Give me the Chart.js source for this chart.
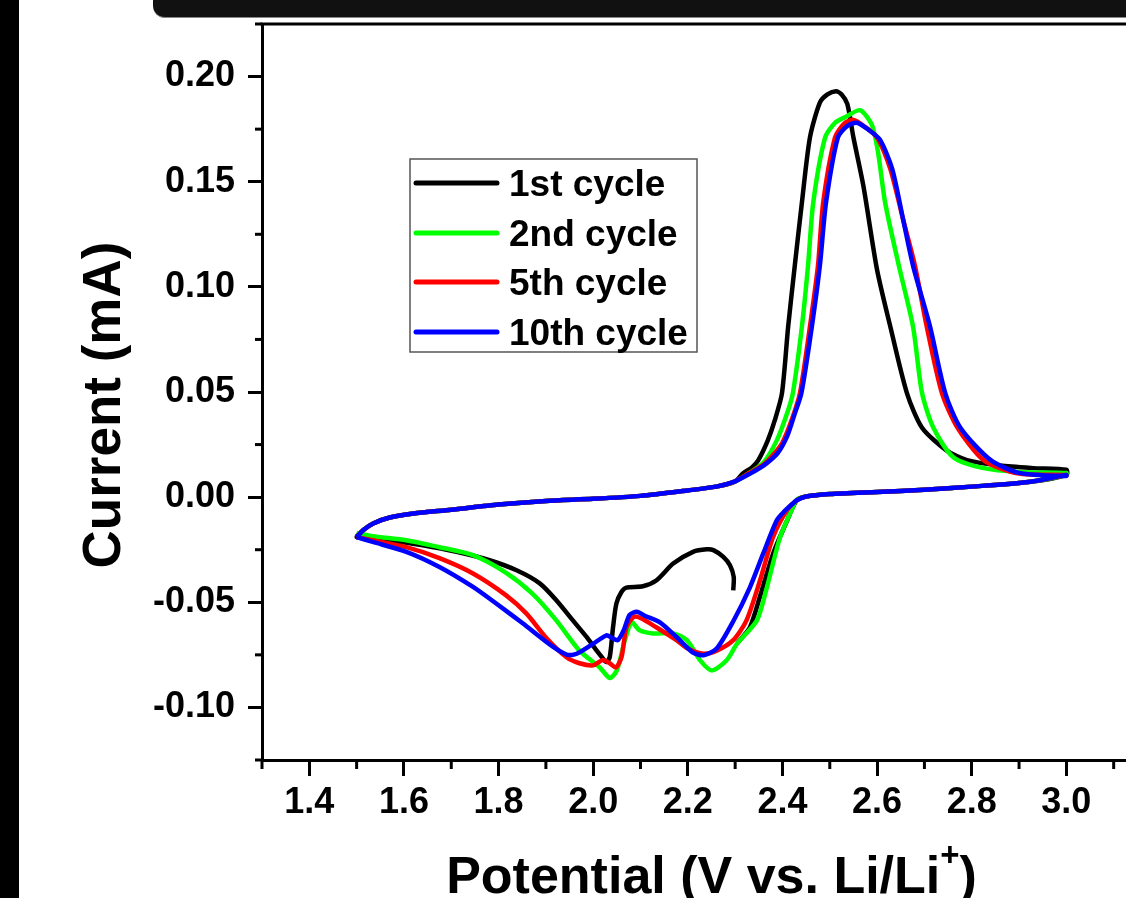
<!DOCTYPE html>
<html><head><meta charset="utf-8">
<script src="https://cdn.jsdelivr.net/npm/chart.js@4.4.1/dist/chart.umd.min.js"></script>
<style>
html,body{margin:0;padding:0;background:#fff;overflow:hidden;width:1126px;height:898px;}
#wrap{position:absolute;left:0;top:0;width:1200px;height:898px;}
#leftbar{position:absolute;left:0;top:0;width:19px;height:898px;background:#000;z-index:2;}
#topbar{position:absolute;left:153px;top:0;width:1000px;height:17px;background:#111;border-bottom-left-radius:12px;z-index:2;border-bottom:1px solid #888;}
</style></head><body>
<div id="wrap"><canvas id="c" width="1200" height="898"></canvas></div>
<div id="leftbar"></div><div id="topbar"></div>
<script>
// ---- tick values ----
const potentialTicks = [1.4, 1.6, 1.8, 2.0, 2.2, 2.4, 2.6, 2.8, 3.0, 3.2];
const potentialMinor = [1.3, 1.5, 1.7, 1.9, 2.1, 2.3, 2.5, 2.7, 2.9, 3.1];
const currentTicks = [-0.10, -0.05, 0.00, 0.05, 0.10, 0.15, 0.20];
const currentMinor = [-0.125, -0.075, -0.025, 0.025, 0.075, 0.125, 0.175, 0.225];
const seriesNames = ["1st cycle", "2nd cycle", "5th cycle", "10th cycle"];

// ---- shared branches (V, mA) ----
const anodicStartV = [1.50, 1.515, 1.535, 1.57, 1.62, 1.70, 1.80, 1.90, 2.00, 2.10, 2.20, 2.26, 2.30];
const anodicStartI = [-0.0190, -0.0155, -0.0125, -0.0097, -0.0078, -0.0060, -0.0035, -0.0018, -0.0008, 0.0006, 0.0032, 0.0050, 0.0075];
const returnV = [3.00, 2.92, 2.80, 2.70, 2.60, 2.50, 2.45];
const returnI = [0.0105, 0.0072, 0.0050, 0.0035, 0.0025, 0.0015, 0.0003];

// ---- 1st cycle ----
const c1HookV = [2.296, 2.297, 2.289, 2.275, 2.254, 2.240, 2.211, 2.169, 2.134, 2.105, 2.070, 2.060, 2.049, 2.042, 2.035, 2.028, 2.018, 2.007, 1.986, 1.957, 1.922, 1.887, 1.838, 1.781, 1.711, 1.640, 1.569, 1.530];
const c1HookI = [-0.0443, -0.0380, -0.0324, -0.0284, -0.0252, -0.0248, -0.0260, -0.0316, -0.0395, -0.0424, -0.0430, -0.0450, -0.0506, -0.0617, -0.0760, -0.0784, -0.0760, -0.0729, -0.0665, -0.0586, -0.0490, -0.0410, -0.0348, -0.0300, -0.0260, -0.0229, -0.0205, -0.0195];
const c1PeakV = [2.317, 2.335, 2.349, 2.369, 2.384, 2.399, 2.412, 2.426, 2.441, 2.458, 2.479, 2.495, 2.513, 2.525, 2.537, 2.550, 2.571, 2.600, 2.628, 2.663, 2.695, 2.748, 2.790, 2.860, 2.930, 3.000];
const c1PeakI = [0.0114, 0.0140, 0.0176, 0.0270, 0.0367, 0.0495, 0.0810, 0.1100, 0.1400, 0.1710, 0.1876, 0.1915, 0.1930, 0.1915, 0.1870, 0.1710, 0.1480, 0.1080, 0.0810, 0.0495, 0.0330, 0.0220, 0.0176, 0.0150, 0.0138, 0.0130];
const c1TailV = [2.43, 2.41, 2.38, 2.352, 2.331, 2.304];
const c1TailI = [-0.0015, -0.0110, -0.0270, -0.0476, -0.0620, -0.0695];

// ---- 2nd cycle ----
const c2PeakV = [2.33, 2.36, 2.388, 2.41, 2.422, 2.441, 2.454, 2.465, 2.49, 2.511, 2.535, 2.564, 2.589, 2.602, 2.617, 2.645, 2.676, 2.695, 2.719, 2.761, 2.825, 2.90, 3.0];
const c2PeakI = [0.0115, 0.0165, 0.027, 0.040, 0.0495, 0.081, 0.110, 0.140, 0.171, 0.178, 0.181, 0.184, 0.177, 0.164, 0.140, 0.111, 0.081, 0.0495, 0.033, 0.019, 0.0138, 0.012, 0.0115];
const c2CathV = [2.43, 2.422, 2.395, 2.367, 2.346, 2.304, 2.282, 2.251, 2.226, 2.198, 2.169, 2.126, 2.098, 2.081, 2.067, 2.05, 2.035, 2.014, 1.971, 1.922, 1.872, 1.816, 1.746, 1.675, 1.605, 1.534, 1.50];
const c2CathI = [-0.0012, -0.0048, -0.019, -0.043, -0.0586, -0.0697, -0.0776, -0.0824, -0.0776, -0.068, -0.0648, -0.0648, -0.0633, -0.0595, -0.068, -0.0824, -0.086, -0.081, -0.073, -0.0586, -0.046, -0.036, -0.0276, -0.0238, -0.0205, -0.0186, -0.017];

// ---- 5th cycle ----
const c5PeakV = [2.33, 2.36, 2.38, 2.40, 2.42, 2.437, 2.458, 2.475, 2.486, 2.511, 2.53, 2.549, 2.575, 2.60, 2.628, 2.655, 2.68, 2.705, 2.737, 2.77, 2.825, 2.896, 3.0];
const c5PeakI = [0.0115, 0.0155, 0.020, 0.026, 0.037, 0.0495, 0.081, 0.110, 0.140, 0.171, 0.1775, 0.1795, 0.176, 0.171, 0.156, 0.132, 0.110, 0.081, 0.0495, 0.033, 0.0176, 0.0114, 0.0105];
const c5CathV = [2.43, 2.41, 2.38, 2.352, 2.324, 2.296, 2.261, 2.233, 2.20, 2.176, 2.134, 2.10, 2.085, 2.07, 2.06, 2.048, 2.035, 2.02, 2.0, 1.971, 1.943, 1.90, 1.859, 1.816, 1.746, 1.675, 1.605, 1.534, 1.50];
const c5CathI = [-0.0015, -0.006, -0.019, -0.040, -0.0586, -0.068, -0.073, -0.0745, -0.072, -0.068, -0.062, -0.0575, -0.057, -0.062, -0.076, -0.081, -0.079, -0.0775, -0.080, -0.079, -0.076, -0.0667, -0.0554, -0.0467, -0.0363, -0.029, -0.0238, -0.0205, -0.019];

// ---- 10th cycle ----
const c10PeakV = [2.33, 2.36, 2.39, 2.41, 2.425, 2.44, 2.462, 2.479, 2.492, 2.517, 2.537, 2.557, 2.58, 2.606, 2.632, 2.655, 2.676, 2.712, 2.744, 2.776, 2.84, 2.903, 3.0];
const c10PeakI = [0.011, 0.015, 0.021, 0.029, 0.039, 0.0495, 0.081, 0.110, 0.140, 0.171, 0.1765, 0.178, 0.175, 0.170, 0.156, 0.132, 0.110, 0.081, 0.0495, 0.033, 0.0176, 0.0114, 0.010];
const c10CathV = [2.43, 2.422, 2.405, 2.388, 2.359, 2.331, 2.296, 2.261, 2.233, 2.21, 2.176, 2.141, 2.11, 2.092, 2.077, 2.065, 2.052, 2.04, 2.028, 2.0, 1.965, 1.945, 1.914, 1.851, 1.795, 1.746, 1.675, 1.605, 1.534, 1.50];
const c10CathI = [-0.0015, -0.003, -0.0065, -0.011, -0.027, -0.043, -0.059, -0.072, -0.0752, -0.0738, -0.0665, -0.0595, -0.0565, -0.0545, -0.056, -0.063, -0.068, -0.067, -0.0657, -0.0697, -0.0745, -0.075, -0.071, -0.060, -0.0506, -0.0427, -0.0332, -0.026, -0.0213, -0.019];

const colors = ["#000000", "#00ff00", "#ff0000", "#0000ff"];

function zip(V, I) { return V.map((v, k) => ({ x: v, y: I[k] })); }
const cycle1 = [...zip(c1HookV, c1HookI), ...zip(anodicStartV, anodicStartI), ...zip(c1PeakV, c1PeakI), ...zip(returnV, returnI), ...zip(c1TailV, c1TailI)];
const cycle2 = [...zip(anodicStartV, anodicStartI), ...zip(c2PeakV, c2PeakI), ...zip(returnV, returnI), ...zip(c2CathV, c2CathI)];
const cycle5 = [...zip(anodicStartV, anodicStartI), ...zip(c5PeakV, c5PeakI), ...zip(returnV, returnI), ...zip(c5CathV, c5CathI)];
const cycle10 = [...zip(anodicStartV, anodicStartI), ...zip(c10PeakV, c10PeakI), ...zip(returnV, returnI), ...zip(c10CathV, c10CathI)];
const allData = [cycle1, cycle2, cycle5, cycle10];

const FONT = '"Liberation Sans", Arial, sans-serif';

const decor = {
  id: 'decor',
  afterDraw(chart) {
    const ctx = chart.ctx, a = chart.chartArea;
    const xs = chart.scales.x, ys = chart.scales.y;
    ctx.save();
    ctx.strokeStyle = '#000';
    ctx.lineWidth = 3;
    ctx.beginPath(); ctx.moveTo(a.left - 1.5, a.top); ctx.lineTo(a.right, a.top); ctx.stroke();
    ctx.beginPath(); ctx.moveTo(a.right, a.top); ctx.lineTo(a.right, a.bottom); ctx.stroke();
    potentialMinor.forEach(v => { const p = xs.getPixelForValue(v); ctx.beginPath(); ctx.moveTo(p, a.bottom); ctx.lineTo(p, a.bottom + 9); ctx.stroke(); });
    currentMinor.forEach(v => { const p = ys.getPixelForValue(v); ctx.beginPath(); ctx.moveTo(a.left, p); ctx.lineTo(a.left - 7, p); ctx.stroke(); });
    ctx.fillStyle = '#000';
    ctx.textBaseline = 'alphabetic';
    const big = 'bold 52px ' + FONT, small = 'bold 33px ' + FONT;
    const t1 = 'Potential (V vs. Li/Li', sup = '+', t2 = ')';
    ctx.font = big;
    const w1 = ctx.measureText(t1).width, w2 = ctx.measureText(t2).width;
    ctx.font = small; const ws = ctx.measureText(sup).width;
    const total = w1 + ws + w2;
    const cx = (a.left + xs.getPixelForValue(3.2)) / 2;
    const x0 = cx - total / 2, by = 893;
    ctx.textAlign = 'left';
    ctx.font = big; ctx.fillText(t1, x0, by);
    ctx.font = small; ctx.fillText(sup, x0 + w1, by - 27);
    ctx.font = big; ctx.fillText(t2, x0 + w1 + ws, by);
    ctx.save();
    ctx.translate(120, 405); ctx.rotate(-Math.PI / 2);
    ctx.textAlign = 'center'; ctx.font = 'bold 53px ' + FONT; ctx.fillText('Current (mA)', 0, 0);
    ctx.restore();
    // legend
    ctx.lineWidth = 1.5; ctx.strokeStyle = '#555';
    ctx.strokeRect(410, 159, 287, 193);
    const rows = [183, 233, 282, 332];
    chart.data.datasets.forEach((ds, k) => {
      ctx.strokeStyle = ds.borderColor; ctx.lineWidth = 5; ctx.lineCap = 'round';
      ctx.beginPath(); ctx.moveTo(416, rows[k]); ctx.lineTo(497, rows[k]); ctx.stroke();
      ctx.fillStyle = '#000'; ctx.font = 'bold 37px ' + FONT; ctx.textAlign = 'left';
      ctx.fillText(ds.label, 509, rows[k] + 13);
    });
    ctx.restore();
  }
};

new Chart(document.getElementById('c'), {
  type: 'scatter',
  data: {
    datasets: allData.map((pts, k) => ({
      label: seriesNames[k], data: pts, showLine: true, borderColor: colors[k], backgroundColor: colors[k],
      borderWidth: 4.5, pointRadius: 0, tension: 0.25, order: 3 - k, borderJoinStyle: 'round'
    }))
  },
  options: {
    responsive: false, animation: false, devicePixelRatio: 1,
    layout: { padding: { top: 24, left: 0, right: 39, bottom: 0 } },
    plugins: { legend: { display: false }, tooltip: { enabled: false } },
    scales: {
      x: {
        type: 'linear', min: 1.3, max: 3.2,
        afterBuildTicks: s => { s.ticks = potentialTicks.map(v => ({ value: v })); },
        afterFit: s => { s.height = 138; s.paddingLeft = 0; s.paddingRight = 0; },
        ticks: { callback: v => v.toFixed(1), color: '#000', font: { family: FONT, size: 36, weight: 'bold' }, padding: 5, maxRotation: 0, autoSkip: false },
        grid: { drawOnChartArea: false, drawTicks: true, tickLength: 16, tickWidth: 3, tickColor: '#000' },
        border: { display: true, width: 3, color: '#000' }
      },
      y: {
        type: 'linear', min: -0.125, max: 0.225,
        afterBuildTicks: s => { s.ticks = currentTicks.map(v => ({ value: v })); },
        afterFit: s => { s.width = 262; s.paddingTop = 0; s.paddingBottom = 0; },
        ticks: { callback: v => v.toFixed(2), color: '#000', font: { family: FONT, size: 36, weight: 'bold' }, padding: 13, autoSkip: false },
        grid: { drawOnChartArea: false, drawTicks: true, tickLength: 14, tickWidth: 3, tickColor: '#000' },
        border: { display: true, width: 3, color: '#000' }
      }
    }
  },
  plugins: [decor]
});
</script></body></html>
